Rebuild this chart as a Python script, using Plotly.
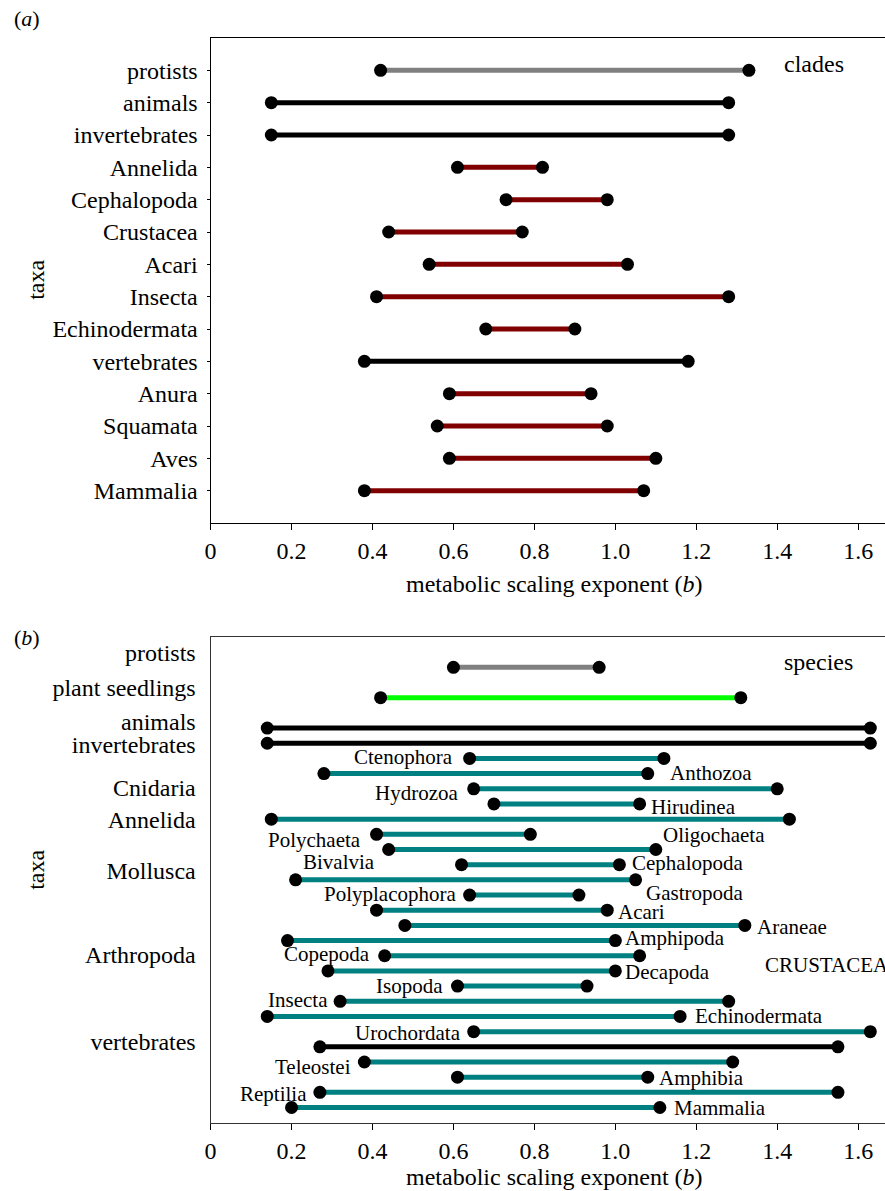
import plotly.graph_objects as go

FONT = "Liberation Serif, Times New Roman, serif"
W, H = 885, 1191

# ---------------- Panel (a): clades ----------------
a_taxa = ["protists", "animals", "invertebrates", "Annelida", "Cephalopoda", "Crustacea",
          "Acari", "Insecta", "Echinodermata", "vertebrates", "Anura", "Squamata", "Aves", "Mammalia"]
a_low = [0.42, 0.15, 0.15, 0.61, 0.73, 0.44, 0.54, 0.41, 0.68, 0.38, 0.59, 0.56, 0.59, 0.38]
a_high = [1.33, 1.28, 1.28, 0.82, 0.98, 0.77, 1.03, 1.28, 0.90, 1.18, 0.94, 0.98, 1.10, 1.07]
a_group = ["protist", "major", "major", "sub", "sub", "sub", "sub", "sub", "sub", "major",
           "sub", "sub", "sub", "sub"]

# ---------------- Panel (b): species ----------------
b_taxa = ["protists", "plant seedlings", "animals", "invertebrates", "Ctenophora", "Anthozoa",
          "Hydrozoa", "Hirudinea", "Annelida", "Polychaeta", "Oligochaeta", "Cephalopoda",
          "Gastropoda", "Polyplacophora", "Acari", "Araneae", "Amphipoda", "Copepoda",
          "Decapoda", "Isopoda", "Insecta", "Echinodermata", "Urochordata", "vertebrates",
          "Teleostei", "Amphibia", "Reptilia", "Mammalia"]
b_row = [30, 28, 26, 25, 24, 23, 22, 21, 20, 19, 18, 17, 16, 15, 14, 13, 12, 11, 10, 9,
         8, 7, 6, 5, 4, 3, 2, 1]
b_low = [0.60, 0.42, 0.14, 0.14, 0.64, 0.28, 0.65, 0.70, 0.15, 0.41, 0.44, 0.62, 0.21, 0.64,
         0.41, 0.48, 0.19, 0.43, 0.29, 0.61, 0.32, 0.14, 0.65, 0.27, 0.38, 0.61, 0.27, 0.20]
b_high = [0.96, 1.31, 1.63, 1.63, 1.12, 1.08, 1.40, 1.06, 1.43, 0.79, 1.10, 1.01, 1.05, 0.91,
          0.98, 1.32, 1.00, 1.06, 1.00, 0.93, 1.28, 1.16, 1.63, 1.55, 1.29, 1.08, 1.55, 1.11]
b_group = ["protist", "plant", "major", "major"] + ["sp"] * 19 + ["major"] + ["sp"] * 4

# Panel (b) axis labels (group names) and their positions
b_ticktext = ["protists", "plant seedlings", "animals", "invertebrates", "Cnidaria",
              "Annelida", "Mollusca", "Arthropoda", "vertebrates"]
b_tickvals = [30.94, 28.64, 26.4, 24.9, 22.1, 19.94, 16.6, 11.1, 5.33]

# Panel (b) in-plot labels: text, x, y, side
b_lab_text = ["Ctenophora", "Anthozoa", "Hydrozoa", "Hirudinea", "Polychaeta", "Oligochaeta",
              "Bivalvia", "Cephalopoda", "Gastropoda", "Polyplacophora", "Acari", "Araneae",
              "Amphipoda", "Copepoda", "Decapoda", "CRUSTACEA", "Isopoda", "Insecta",
              "Echinodermata", "Urochordata", "Teleostei", "Amphibia", "Reptilia", "Mammalia"]
b_lab_x = [0.604, 1.129, 0.615, 1.082, 0.377, 1.113, 0.412, 1.036, 1.070, 0.612, 1.001, 1.345,
           1.020, 0.398, 1.018, 1.364, 0.580, 0.296, 1.191, 0.623, 0.352, 1.104, 0.242, 1.141]
b_lab_y = [24.09, 23.04, 21.72, 20.82, 18.62, 18.95, 17.19, 17.09, 15.15, 15.07, 13.86, 12.87,
           12.15, 11.11, 9.95, 10.39, 9.03, 8.08, 7.03, 5.88, 3.67, 2.96, 1.86, 0.97]
b_lab_side = ["r", "l", "r", "l", "r", "l", "r", "l", "l", "r", "l", "l",
              "l", "r", "l", "l", "r", "r", "l", "r", "r", "l", "r", "l"]

x_ticks = [0, 0.2, 0.4, 0.6, 0.8, 1.0, 1.2, 1.4, 1.6]
x_ticktext = ["0", "0.2", "0.4", "0.6", "0.8", "1.0", "1.2", "1.4", "1.6"]

COLORS = {"protist": "#808080", "major": "#000000", "sub": "#800000",
          "plant": "#00ff00", "sp": "#008080"}

fig = go.Figure()

n_a = len(a_taxa)
a_rows = [n_a - i for i in range(n_a)]
for lo, hi, r, g in zip(a_low, a_high, a_rows, a_group):
    fig.add_trace(go.Scatter(x=[lo, hi], y=[r, r], mode="lines+markers",
                             line=dict(color=COLORS[g], width=5),
                             marker=dict(color="black", size=13),
                             xaxis="x", yaxis="y", showlegend=False, hoverinfo="skip"))

for lo, hi, r, g in zip(b_low, b_high, b_row, b_group):
    fig.add_trace(go.Scatter(x=[lo, hi], y=[r, r], mode="lines+markers",
                             line=dict(color=COLORS[g], width=5),
                             marker=dict(color="black", size=13),
                             xaxis="x2", yaxis="y2", showlegend=False, hoverinfo="skip"))

x_right = (W - 206) / 407.5
xa_common = dict(range=[0, x_right], tickvals=x_ticks, ticktext=x_ticktext,
                 ticks="outside", ticklen=6, tickcolor="black", showline=True,
                 linecolor="black", linewidth=1.2, mirror=True, showgrid=False,
                 zeroline=False, tickfont=dict(size=24, color="black", family=FONT))

fig.update_layout(
    width=W, height=H, margin=dict(l=0, r=0, t=0, b=0),
    paper_bgcolor="white", plot_bgcolor="white",
    font=dict(family=FONT, color="black", size=24),
    xaxis=dict(domain=[206 / W, 1], anchor="y", **xa_common),
    yaxis=dict(domain=[1 - 523 / H, 1 - 38 / H], anchor="x", range=[0, n_a + 1],
               tickvals=a_rows, ticktext=a_taxa, ticks="outside", ticklen=3,
               tickcolor="black", showline=True, linecolor="black", linewidth=1.2,
               showgrid=False, zeroline=False, ticklabelstandoff=4,
               tickfont=dict(size=24, color="black", family=FONT)),
    xaxis2=dict(domain=[206 / W, 1], anchor="y2", **xa_common),
    yaxis2=dict(domain=[1 - 1122.7 / H, 1 - 637 / H], anchor="x2", range=[0, 32],
                tickvals=b_tickvals, ticktext=b_ticktext, ticks="outside", ticklen=3,
                tickcolor="rgba(0,0,0,0)", ticklabelstandoff=6,
                showline=True, linecolor="#333333", linewidth=1.2,
                showgrid=False, zeroline=False,
                tickfont=dict(size=24, color="black", family=FONT)),
)
fig.layout.xaxis2.linecolor = "#333333"

ann = []
# panel letters
ann.append(dict(text="(<i>a</i>)", x=6 / W, y=1 - 18 / H, xref="paper", yref="paper",
                xanchor="left", yanchor="middle", showarrow=False, font=dict(size=22)))
ann.append(dict(text="(<i>b</i>)", x=6 / W, y=1 - 637 / H, xref="paper", yref="paper",
                xanchor="left", yanchor="middle", showarrow=False, font=dict(size=22)))
# axis titles
for yy in [280, 870]:
    ann.append(dict(text="taxa", x=30 / W, y=1 - yy / H, xref="paper", yref="paper",
                    textangle=-90, xanchor="center", yanchor="middle", showarrow=False,
                    font=dict(size=24)))
for yy in [584, 1177]:
    ann.append(dict(text="metabolic scaling exponent (<i>b</i>)", x=552 / W, y=1 - yy / H,
                    xref="paper", yref="paper", xanchor="center", yanchor="middle",
                    showarrow=False, font=dict(size=24)))
ann.append(dict(text="clades", x=1.411, y=14.2, xref="x", yref="y", xanchor="left",
                yanchor="middle", showarrow=False, font=dict(size=24)))
ann.append(dict(text="species", x=1.413, y=30.37, xref="x2", yref="y2", xanchor="left",
                yanchor="middle", showarrow=False, font=dict(size=24)))
for t, x, y, s in zip(b_lab_text, b_lab_x, b_lab_y, b_lab_side):
    ann.append(dict(text=t, x=x, y=y, xref="x2", yref="y2",
                    xanchor="right" if s == "r" else "left", yanchor="middle",
                    showarrow=False, font=dict(size=21)))
fig.update_layout(annotations=ann)

fig.write_html("out.html", config={"displayModeBar": False},
               post_script="document.body.style.margin='0';document.body.style.overflow='hidden';")
